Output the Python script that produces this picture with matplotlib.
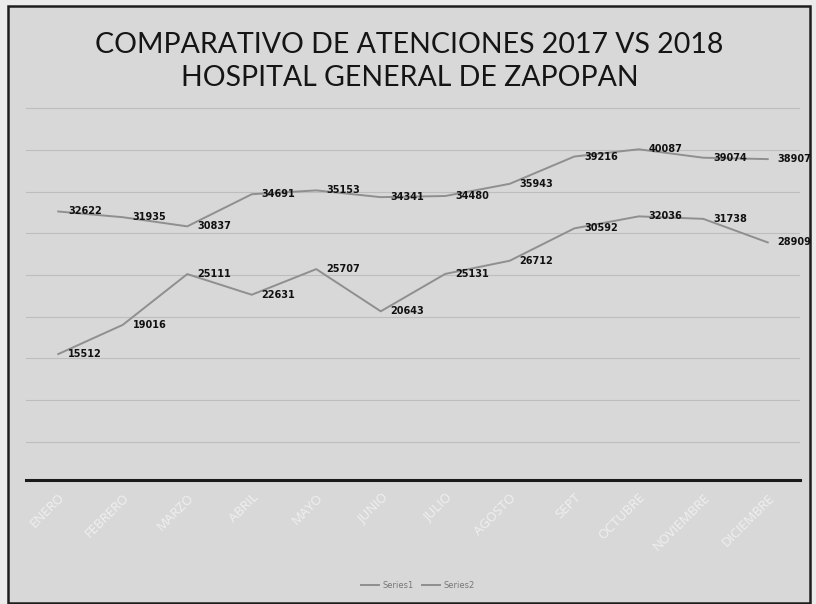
import matplotlib
matplotlib.use("Agg")
import matplotlib.pyplot as plt
from matplotlib.patches import Rectangle

months = ["ENERO", "FEBRERO", "MARZO", "ABRIL", "MAYO", "JUNIO", "JULIO",
          "AGOSTO", "SEPT", "OCTUBRE", "NOVIEMBRE", "DICIEMBRE"]
series1 = [32622, 31935, 30837, 34691, 35153, 34341, 34480, 35943, 39216, 40087, 39074, 38907]
series2 = [15512, 19016, 25111, 22631, 25707, 20643, 25131, 26712, 30592, 32036, 31738, 28909]
series_names = ["Series1", "Series2"]
title_lines = ["COMPARATIVO DE ATENCIONES 2017 VS 2018", "HOSPITAL GENERAL DE ZAPOPAN"]

W, H = 816, 604
fig = plt.figure(figsize=(W / 100, H / 100), dpi=100)
fig.patch.set_facecolor("#ebebeb")

# chart frame
fig.patches.append(Rectangle((8 / W, 1 - 603 / H), (810 - 8) / W, (603 - 6) / H,
                             transform=fig.transFigure, facecolor="#d8d8d8",
                             edgecolor="#1e1e1e", linewidth=1.8, zorder=-5))

ax = fig.add_axes([26 / W, 1 - 480 / H, (800 - 26) / W, (480 - 105) / H])
ax.set_zorder(1)
ax.set_facecolor("none")
x = list(range(len(months)))
ax.set_xlim(-0.5, len(months) - 0.5)
ax.set_ylim(400, 45400)

for s, name in zip([series1, series2], series_names):
    ax.plot(x, s, color="#8f8f8f", linewidth=1.4, label=name, zorder=3)
    for xi, v in zip(x, s):
        ax.annotate(str(v), (xi, v), xytext=(7, 0), textcoords="offset points",
                    ha="left", va="center", fontsize=7, fontweight="bold",
                    color="#111111", family=["Liberation Sans Narrow", "DejaVu Sans"],
                    zorder=4)

ax.set_yticks(range(5000, 45001, 5000))
ax.yaxis.grid(True, color="#bdbdbd", linewidth=0.8)
ax.set_axisbelow(True)
ax.tick_params(axis="y", left=False, labelleft=False)
for sp in ["top", "right", "left"]:
    ax.spines[sp].set_visible(False)
ax.spines["bottom"].set_color("#1a1a1a")
ax.spines["bottom"].set_linewidth(2.2)
ax.set_xticks(x)
ax.set_xticklabels(months, rotation=45, ha="right", va="top", rotation_mode="anchor",
                   color="#f0f0f0", fontsize=9.5, family=["Open Sans", "DejaVu Sans"])
ax.tick_params(axis="x", length=0, pad=8)

fig.text(0.502, 1 - 45 / H, title_lines[0], ha="center", va="center",
         fontsize=20.5, color="#151515", family=["Lato", "DejaVu Sans"])
fig.text(0.502, 1 - 78 / H, title_lines[1], ha="center", va="center",
         fontsize=20.5, color="#151515", family=["Lato", "DejaVu Sans"])

leg = fig.legend(loc="center", bbox_to_anchor=(418 / W, 1 - 585 / H), ncol=2,
                 frameon=False, fontsize=6, handlelength=2.2, columnspacing=1.0,
                 handletextpad=0.4)
for t in leg.get_texts():
    t.set_color("#777777")

fig.savefig("out.png", dpi=100, facecolor=fig.get_facecolor())
